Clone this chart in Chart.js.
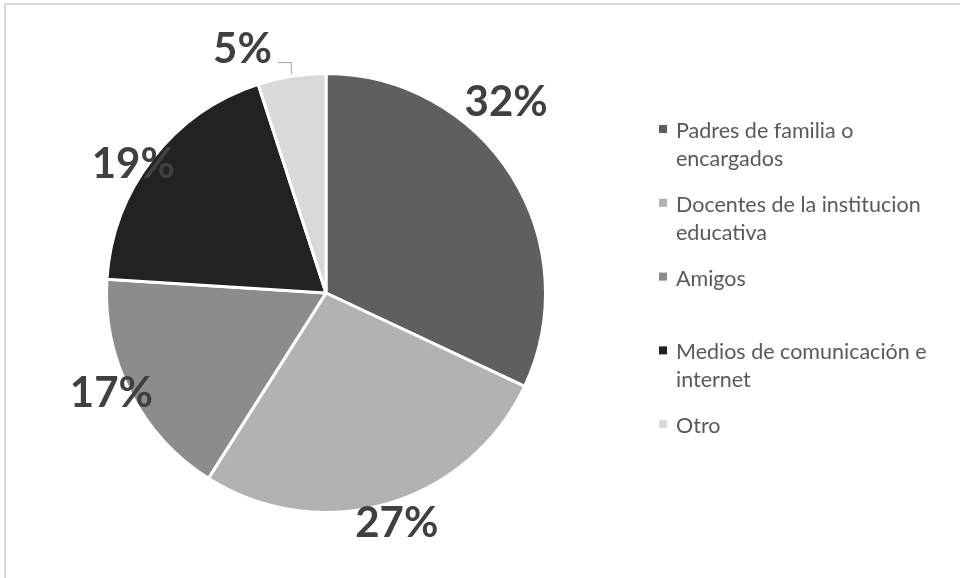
<!DOCTYPE html>
<html>
<head>
<meta charset="utf-8">
<script src="https://cdn.jsdelivr.net/npm/chart.js@4.4.1/dist/chart.umd.min.js"></script>
<style>
  html, body { margin: 0; background: #fff; overflow: hidden; width: 960px; height: 578px; }
  #frame { position: absolute; left: 4px; top: 3px; width: 956px; height: 575px;
           border-top: 2px solid #d9d9d9; border-left: 2px solid #d9d9d9; box-sizing: border-box; }
  #pieChart { position: absolute; left: 0; top: 0; }
</style>
</head>
<body>
<div id="frame"></div>
<canvas id="pieChart" width="960" height="578"></canvas>
<script>
// Chart data
const categories = [
    ['Padres de familia o', 'encargados'],
    ['Docentes de la institucion', 'educativa'],
    ['Amigos'],
    ['Medios de comunicación e', 'internet'],
    ['Otro']
];
const values = [32, 27, 17, 19, 5];
const colors = ['#5f5f5f', '#b2b2b2', '#8c8c8c', '#222222', '#d9d9d9'];

// Label nudges (px) away from the default outside position
const labelNudge = [[-28, -60], [2, -8], [5, -13], [2, 21], [-45, -2]];
const leaderLines = [false, false, false, false, true];

// Percent labels drawn around the pie
const percentLabels = {
    id: 'percentLabels',
    afterDatasetsDraw(chart) {
        const ctx = chart.ctx;
        const meta = chart.getDatasetMeta(0);
        const total = values.reduce((a, b) => a + b, 0);
        ctx.save();
        ctx.font = 'bold 42px Lato';
        ctx.fillStyle = '#404040';
        ctx.textAlign = 'center';
        ctx.textBaseline = 'alphabetic';
        meta.data.forEach((arc, i) => {
            const mid = (arc.startAngle + arc.endAngle) / 2;
            const r = arc.outerRadius + 27;
            const cx = arc.x + Math.cos(mid) * r + labelNudge[i][0];
            const cy = arc.y + Math.sin(mid) * r + labelNudge[i][1];
            const text = Math.round(values[i] / total * 100) + '%';
            ctx.fillText(text, cx, cy + 15);
            if (leaderLines[i]) {
                const w = ctx.measureText(text).width;
                const px = arc.x + Math.cos(mid) * (arc.outerRadius + 2);
                const py = arc.y + Math.sin(mid) * (arc.outerRadius + 2);
                ctx.beginPath();
                ctx.strokeStyle = '#a6a6a6';
                ctx.lineWidth = 1;
                ctx.moveTo(px, py);
                ctx.lineTo(px, cy + 15);
                ctx.lineTo(cx + w / 2 + 6, cy + 15);
                ctx.stroke();
            }
        });
        ctx.restore();
    }
};

// Legend on the right with wrapped lines
const sideLegend = {
    id: 'sideLegend',
    afterDraw(chart) {
        const ctx = chart.ctx;
        ctx.save();
        ctx.font = '21.5px Lato';
        ctx.textAlign = 'left';
        ctx.textBaseline = 'alphabetic';
        categories.forEach((lines, i) => {
            const base = 138 + i * 73.8;
            ctx.fillStyle = colors[i];
            ctx.fillRect(659, base - 13, 8, 8);
            ctx.fillStyle = '#595959';
            lines.forEach((line, j) => {
                ctx.fillText(line, 676, base + j * 28);
            });
        });
        ctx.restore();
    }
};

let pieChart;

function drawChart() {
    const ctx = document.getElementById('pieChart').getContext('2d');
    if (pieChart) {
        pieChart.destroy();
    }
    pieChart = new Chart(ctx, {
        type: 'pie',
        data: {
            labels: categories,
            datasets: [{
                data: values,
                backgroundColor: colors,
                borderColor: '#ffffff',
                borderWidth: 3
            }]
        },
        options: {
            responsive: false,
            animation: false,
            layout: {
                padding: { left: 105, right: 413, top: 72, bottom: 64 }
            },
            plugins: {
                legend: { display: false },
                tooltip: { enabled: false }
            }
        },
        plugins: [percentLabels, sideLegend]
    });
}

document.addEventListener('DOMContentLoaded', () => {
    drawChart();
});
</script>
</body>
</html>
